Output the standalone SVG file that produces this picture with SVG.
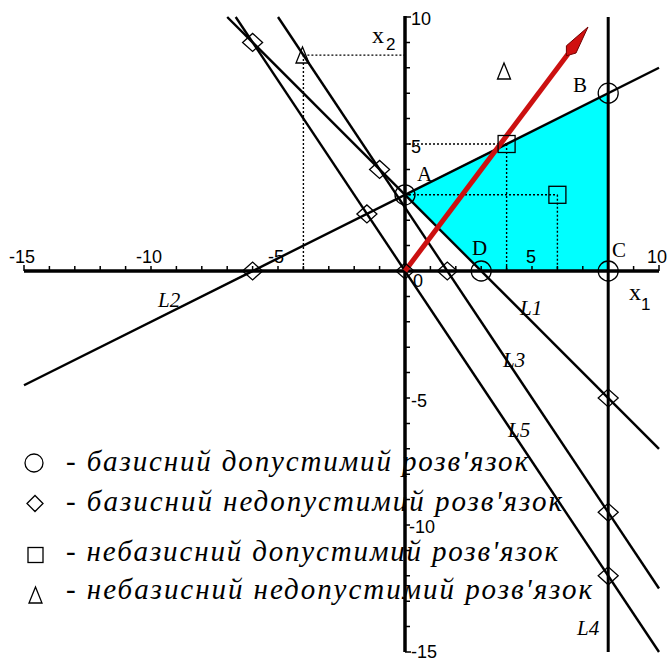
<svg xmlns="http://www.w3.org/2000/svg" width="669" height="662" viewBox="0 0 669 662">
<style>
.ax{stroke:#000;stroke-width:3.5;fill:none}
.tk{stroke:#000;stroke-width:1.5;fill:none}
.ln{stroke:#000;stroke-width:2.4;fill:none}
.l4{stroke:#000;stroke-width:3;fill:none}
.dot{stroke:#000;stroke-width:1.4;stroke-dasharray:2 2;fill:none}
.mk{stroke:#000;stroke-width:1.3;fill:none}
.num{font-family:"Liberation Sans",Arial,sans-serif;font-size:18px;fill:#000}
.pt{font-family:"Liberation Serif","Times New Roman",serif;font-size:21px;fill:#000}
.lab{font-family:"Liberation Serif","Times New Roman",serif;font-style:italic;font-size:21px;fill:#000}
.var{font-family:"Liberation Serif","Times New Roman",serif;font-size:24px;fill:#000}
.sub{font-family:"Liberation Sans",Arial,sans-serif;font-size:17px;fill:#000}
.leg{font-family:"Liberation Serif","Times New Roman",serif;font-style:italic;font-size:29px;fill:#000}
</style>
<rect width="669" height="662" fill="#fff"/>
<g id="region">
<polygon points="405,194.8 608.2,93.2 608.2,271 481.2,271" fill="#00ffff"/>
</g>
<g id="guides">
<line class="dot" x1="405" y1="144" x2="506.6" y2="144"/>
<line class="dot" x1="506.6" y1="144" x2="506.6" y2="271"/>
<line class="dot" x1="405" y1="194.8" x2="557.4" y2="194.8"/>
<line class="dot" x1="557.4" y1="194.8" x2="557.4" y2="271"/>
<line class="dot" x1="303.4" y1="55.1" x2="405" y2="55.1"/>
<line class="dot" x1="303.4" y1="55.1" x2="303.4" y2="271"/>
</g>
<g id="axes">
<line class="ax" x1="24" y1="271" x2="659" y2="271"/>
<line class="ax" x1="405" y1="16" x2="405" y2="652"/>
<path class="tk" d="M24,271v-6M49.4,271v-5M74.8,271v-5M100.2,271v-5M125.6,271v-5M151,271v-5M176.4,271v-5M201.8,271v-5M227.2,271v-5M252.6,271v-5M278,271v-5M303.4,271v-5M328.8,271v-5M354.2,271v-5M379.6,271v-5M430.4,271v-5M455.8,271v-5M481.2,271v-5M506.6,271v-5M532,271v-5M557.4,271v-5M582.8,271v-5M608.2,271v-5M633.6,271v-5M659,271v-6"/>
<path class="tk" d="M405,17h6M405,42.4h5M405,67.8h5M405,93.2h5M405,118.6h5M405,144h5M405,169.4h5M405,194.8h5M405,220.2h5M405,245.6h5M405,296.4h5M405,321.8h5M405,347.2h5M405,372.6h5M405,398h5M405,423.4h5M405,448.8h5M405,474.2h5M405,499.6h5M405,525h5M405,550.4h5M405,575.8h5M405,601.2h5M405,626.6h5M405,652h6"/>
<text class="num" x="22" y="263" text-anchor="middle">-15</text>
<text class="num" x="149" y="263" text-anchor="middle">-10</text>
<text class="num" x="276" y="263" text-anchor="middle">-5</text>
<text class="num" x="531" y="263" text-anchor="middle">5</text>
<text class="num" x="657" y="263" text-anchor="middle">10</text>
<text class="num" x="411" y="25">10</text>
<text class="num" x="411" y="153">5</text>
<text class="num" x="411" y="407">-5</text>
<text class="num" x="409" y="533">-10</text>
<text class="num" x="411" y="658">-15</text>
<text class="num" x="413" y="287">0</text>
<text class="var" x="372" y="43">x</text><text class="sub" x="386" y="50">2</text>
<text class="var" x="629" y="300">x</text><text class="sub" x="641" y="310">1</text>
</g>
<g id="connectors">
<line id="L1" class="ln" x1="227.2" y1="17" x2="659" y2="448.8"/>
<line id="L2" class="ln" x1="24" y1="385.3" x2="659" y2="67.8"/>
<line id="L3" class="ln" x1="278" y1="17" x2="659" y2="588.5"/>
<line id="L4" class="l4" x1="608.2" y1="17" x2="608.2" y2="652"/>
<line id="L5" class="ln" x1="235.7" y1="17" x2="659" y2="652"/>
</g>
<g id="objective">
<line x1="405" y1="271" x2="568" y2="54" stroke="#cc1010" stroke-width="5"/>
<polygon points="566.4,55.8 576,53 588,27 566.4,45.8" fill="#d01010" stroke="#700000" stroke-width="1"/>
</g>
<g id="markers">
<circle class="mk" cx="405" cy="194.8" r="10"/>
<circle class="mk" cx="608.2" cy="93.2" r="10"/>
<circle class="mk" cx="608.2" cy="271" r="10"/>
<circle class="mk" cx="481.2" cy="271" r="10"/>
<path class="mk" d="M242.6,271l10,-9l10,9l-10,9zM242.6,42.4l10,-9l10,9l-10,9zM356.9,213.9l10,-9l10,9l-10,9zM369.6,169.4l10,-9l10,9l-10,9zM437.3,271l10,-9l10,9l-10,9zM396,271l9,-8l9,8l-9,8zM598.2,398l10,-9l10,9l-10,9zM598.2,512.3l10,-9l10,9l-10,9zM598.2,575.8l10,-9l10,9l-10,9z"/>
<rect class="mk" x="498.1" y="135.5" width="17" height="17"/>
<rect class="mk" x="548.9" y="186.3" width="17" height="17"/>
<polygon class="mk" points="302.5,47 296,63 309,63"/>
<polygon class="mk" points="504,63 497.5,79 510.5,79"/>
</g>
<g id="labels">
<text class="pt" x="417" y="181">A</text>
<text class="pt" x="573" y="92">B</text>
<text class="pt" x="612" y="257">C</text>
<text class="pt" x="472" y="255">D</text>
<text class="lab" x="520" y="315">L1</text>
<text class="lab" x="158" y="307">L2</text>
<text class="lab" x="503" y="367">L3</text>
<text class="lab" x="577" y="635">L4</text>
<text class="lab" x="508" y="437">L5</text>
</g>
<g id="legend">
<circle class="mk" cx="34" cy="463" r="9"/>
<path class="mk" d="M27,503.5l8,-8l8,8l-8,8z"/>
<rect class="mk" x="28" y="547.5" width="15" height="15"/>
<polygon class="mk" points="35.5,587 29,603 42,603"/>
<text class="leg" x="66" y="471" textLength="462" lengthAdjust="spacing">- базисний допустимий розв'язок</text>
<text class="leg" x="66" y="511" textLength="496" lengthAdjust="spacing">- базисний недопустимий розв'язок</text>
<text class="leg" x="66" y="561" textLength="492" lengthAdjust="spacing">- небазисний допустимий розв'язок</text>
<text class="leg" x="66" y="599" textLength="526" lengthAdjust="spacing">- небазисний недопустимий розв'язок</text>
</g>
</svg>
